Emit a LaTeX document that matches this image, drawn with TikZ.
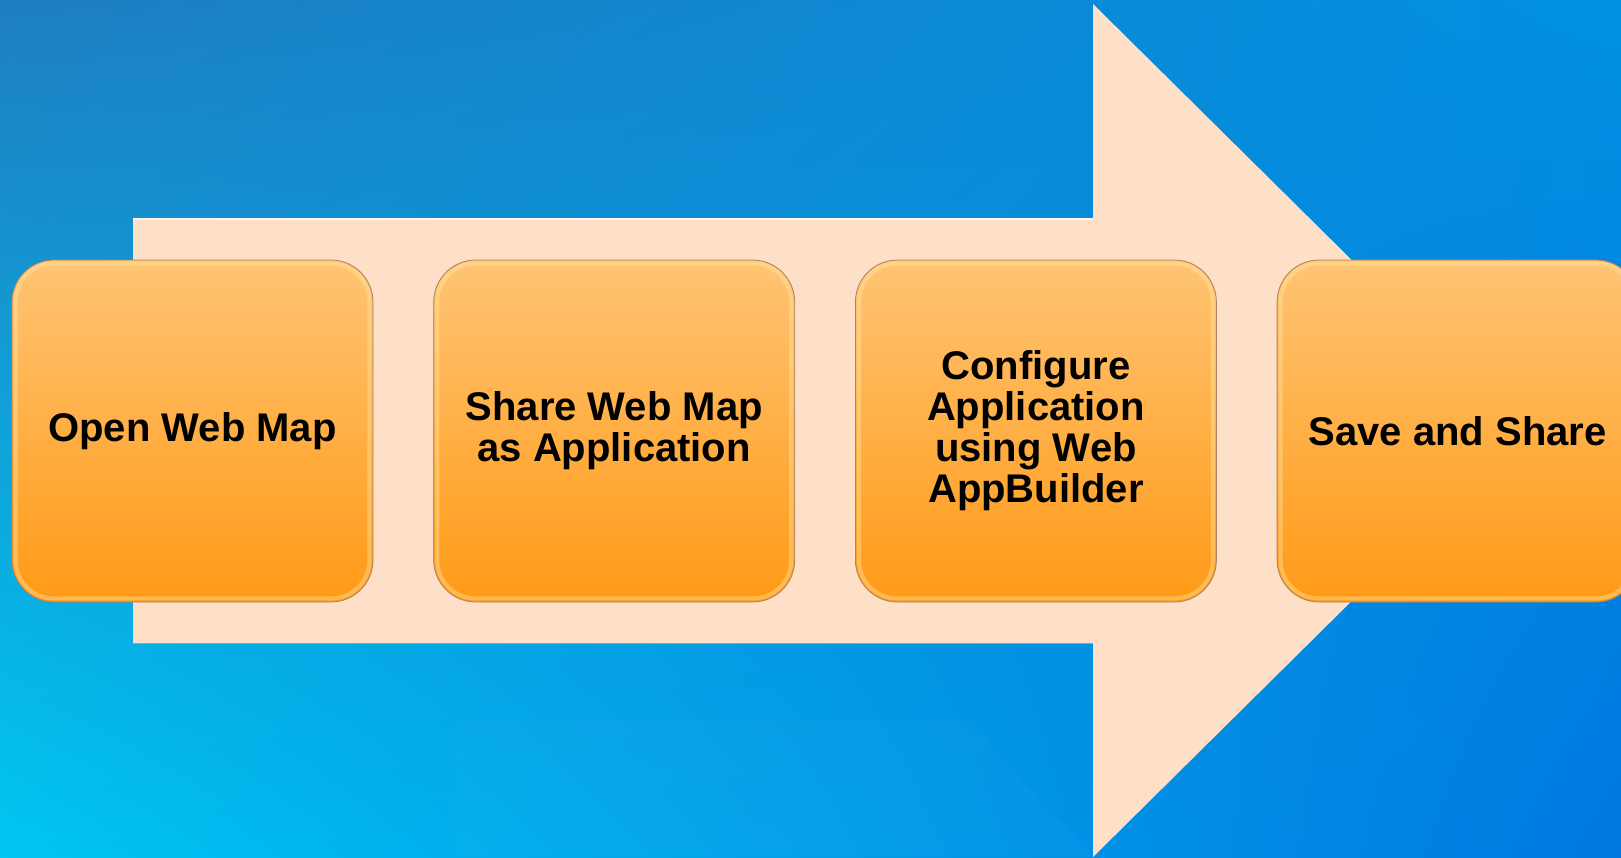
\documentclass[tikz,border=0pt]{standalone}
\usepackage{fontspec}
\setmainfont{Liberation Sans}
\usetikzlibrary{shadings}
\definecolor{bgTL}{HTML}{1E7EC0}
\definecolor{bgTR}{HTML}{0090E2}
\definecolor{bgBL}{HTML}{00C6F2}
\definecolor{bgBR}{HTML}{0078E0}
\definecolor{peach}{HTML}{FEE0C8}
\definecolor{boxtop}{HTML}{FFC474}
\definecolor{boxbot}{HTML}{FF9A16}
\definecolor{rim}{HTML}{FFEAA8}
\definecolor{shadowc}{HTML}{B08060}
\begin{document}
\begin{tikzpicture}[x=1pt,y=-1pt,
  stepbox/.style={rectangle, rounded corners=42pt, minimum width=361pt, minimum height=342pt,
    top color=boxtop, bottom color=boxbot, draw=shadowc, line width=0.8pt,
    align=center, font=\bfseries\fontsize{40}{41}\selectfont, text=black, inner sep=0pt},
  rimline/.style={draw=rim, line width=4pt, opacity=0.4, rounded corners=38pt},
  arrowfill/.style={fill=peach}]
\useasboundingbox (0,0) rectangle (1621,857);
\clip (0,0) rectangle (1621,857);
% background
\shade[upper left=bgTL, upper right=bgTR, lower left=bgBL, lower right=bgBR] (0,0) rectangle (1621,857);
\fill[white, opacity=0.018] (455,720) -- (967,720) -- (1093,857) -- (455,857) -- cycle;
% big arrow
\fill[arrowfill] (133,218) -- (1093,218) -- (1093,4) -- (1524,430.5) -- (1093,857) -- (1093,643) -- (133,643) -- cycle;
\draw[white, opacity=0.7, line width=2pt] (133,219) -- (1093,219);
\draw[gray!70!peach, line width=1pt] (133,643) -- (1093,643);
% step boxes
\node[stepbox] (b1) at (192.5,431) {Open Web Map};
\node[stepbox] (b2) at (614.2,431) {Share Web Map\\as Application};
\node[stepbox] (b3) at (1035.9,431) {Configure\\Application\\using Web\\AppBuilder};
\node[stepbox] (b4) at (1457.6,431) {Save and Share};
\foreach \b in {b1,b2,b3,b4}{
  \draw[rimline] ([shift={(4,4)}]\b.north west) rectangle ([shift={(-4,-4)}]\b.south east);
}
\end{tikzpicture}
\end{document}
